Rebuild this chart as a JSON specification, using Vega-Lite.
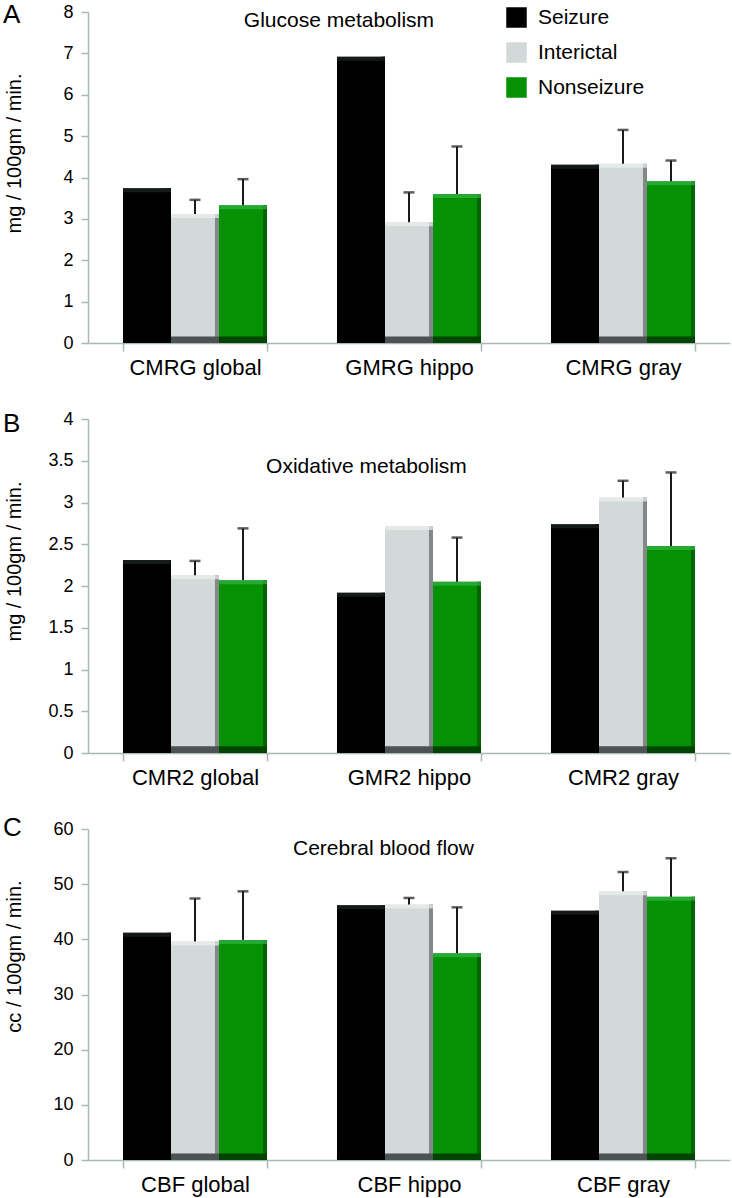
{
  "$schema": "https://vega.github.io/schema/vega-lite/v6.json",
  "background": "white",
  "padding": {"left": 2, "top": 2, "right": 2, "bottom": 2},
  "config": {
    "font": "Liberation Sans",
    "view": {"stroke": null},
    "axis": {"domainColor": "#a8b8b8", "domainWidth": 1.5, "tickColor": "#a8b8b8", "tickWidth": 1.5, "labelColor": "#000000", "titleColor": "#000000", "grid": false, "titleFontWeight": "normal"},
    "axisX": {"labelFontSize": 22, "tickSize": 8, "labelPadding": 6, "labelAngle": 0, "tickBand": "extent", "title": null},
    "axisY": {"labelFontSize": 18, "tickSize": 7, "labelPadding": 8, "titleFontSize": 20, "titleX": -74, "titleBaseline": "middle", "format": "~g"}
  },
  "datasets": {
    "glucose": [
      {"region": "CMRG global", "group": "Seizure", "value": 3.74, "upper": null},
      {"region": "CMRG global", "group": "Interictal", "value": 3.12, "upper": 3.46},
      {"region": "CMRG global", "group": "Nonseizure", "value": 3.33, "upper": 3.96},
      {"region": "GMRG hippo", "group": "Seizure", "value": 6.92, "upper": null},
      {"region": "GMRG hippo", "group": "Interictal", "value": 2.92, "upper": 3.64},
      {"region": "GMRG hippo", "group": "Nonseizure", "value": 3.6, "upper": 4.75},
      {"region": "CMRG gray", "group": "Seizure", "value": 4.31, "upper": null},
      {"region": "CMRG gray", "group": "Interictal", "value": 4.33, "upper": 5.15},
      {"region": "CMRG gray", "group": "Nonseizure", "value": 3.91, "upper": 4.41}
    ],
    "oxid": [
      {"region": "CMR2 global", "group": "Seizure", "value": 2.31, "upper": null},
      {"region": "CMR2 global", "group": "Interictal", "value": 2.13, "upper": 2.3},
      {"region": "CMR2 global", "group": "Nonseizure", "value": 2.07, "upper": 2.69},
      {"region": "GMR2 hippo", "group": "Seizure", "value": 1.92, "upper": null},
      {"region": "GMR2 hippo", "group": "Interictal", "value": 2.72, "upper": null},
      {"region": "GMR2 hippo", "group": "Nonseizure", "value": 2.05, "upper": 2.58},
      {"region": "CMR2 gray", "group": "Seizure", "value": 2.74, "upper": null},
      {"region": "CMR2 gray", "group": "Interictal", "value": 3.06, "upper": 3.26},
      {"region": "CMR2 gray", "group": "Nonseizure", "value": 2.48, "upper": 3.36}
    ],
    "cbf": [
      {"region": "CBF global", "group": "Seizure", "value": 41.2, "upper": null},
      {"region": "CBF global", "group": "Interictal", "value": 39.6, "upper": 47.4},
      {"region": "CBF global", "group": "Nonseizure", "value": 39.9, "upper": 48.7},
      {"region": "CBF hippo", "group": "Seizure", "value": 46.2, "upper": null},
      {"region": "CBF hippo", "group": "Interictal", "value": 46.3, "upper": 47.5},
      {"region": "CBF hippo", "group": "Nonseizure", "value": 37.5, "upper": 45.8},
      {"region": "CBF gray", "group": "Seizure", "value": 45.2, "upper": null},
      {"region": "CBF gray", "group": "Interictal", "value": 48.7, "upper": 52.2},
      {"region": "CBF gray", "group": "Nonseizure", "value": 47.7, "upper": 54.7}
    ]
  },
  "vconcat": [
    {
      "width": 642, "height": 331,
      "data": {"name": "glucose"},
      "resolve": {"scale": {"xOffset": "independent"}},
      "encoding": {
        "x": {"field": "region", "type": "nominal", "sort": null, "scale": {"paddingInner": 0.327, "paddingOuter": 0.1635}},
        "xOffset": {"field": "group", "type": "nominal", "scale": {"domain": ["Seizure", "Interictal", "Nonseizure"], "paddingInner": 0, "paddingOuter": 0}}
      },
      "layer": [
        {
          "mark": {"type": "bar"},
          "encoding": {
            "y": {"field": "value", "type": "quantitative", "title": "mg / 100gm / min.", "scale": {"domain": [0, 8]}, "axis": {"values": [0, 1, 2, 3, 4, 5, 6, 7, 8], "titleY": 141}},
            "color": {"field": "group", "type": "nominal", "scale": {"domain": ["Seizure", "Interictal", "Nonseizure"], "range": ["#000000", "#d3d9d8", "#049204"]},
              "legend": {"orient": "none", "legendX": 418, "legendY": -5, "title": null, "symbolType": "square", "symbolSize": 420, "symbolStrokeWidth": 0, "labelFontSize": 21, "labelColor": "#000000", "rowPadding": 13, "labelOffset": 11}}
          }
        },
        {
          "mark": {"type": "bar"},
          "encoding": {
            "xOffset": {"field": "group", "type": "nominal", "scale": {"domain": ["Seizure", "Interictal", "Nonseizure"], "paddingInner": 0.916, "paddingOuter": 0.458, "align": 1}},
            "y": {"field": "value", "type": "quantitative", "title": "mg / 100gm / min."},
            "fill": {"condition": [{"test": "datum.group == 'Interictal'", "value": "#838989"}, {"test": "datum.group == 'Nonseizure'", "value": "#006400"}], "value": "#000000"}
          }
        },
        {
          "mark": {"type": "tick", "orient": "horizontal", "size": 47.8, "thickness": 4, "yOffset": 2},
          "encoding": {
            "y": {"field": "value", "type": "quantitative", "title": "mg / 100gm / min."},
            "fill": {"condition": [{"test": "datum.group == 'Interictal'", "value": "#eceff0"}, {"test": "datum.group == 'Nonseizure'", "value": "#35b446"}], "value": "#202424"}
          }
        },
        {
          "mark": {"type": "bar"},
          "encoding": {
            "y": {"datum": 0, "type": "quantitative", "title": "mg / 100gm / min."},
            "y2": {"datum": 0.16},
            "fill": {"condition": [{"test": "datum.group == 'Interictal'", "value": "#4d5252"}, {"test": "datum.group == 'Nonseizure'", "value": "#004400"}], "value": "#000000"}
          }
        },
        {
          "transform": [{"filter": "datum.upper != null"}],
          "mark": {"type": "rule", "strokeWidth": 2, "color": "#1a1a1a"},
          "encoding": {
            "y": {"field": "value", "type": "quantitative", "title": "mg / 100gm / min."},
            "y2": {"field": "upper"}
          }
        },
        {
          "transform": [{"filter": "datum.upper != null"}],
          "mark": {"type": "tick", "thickness": 2.5, "size": 11, "color": "#1a1a1a", "orient": "horizontal"},
          "encoding": {
            "y": {"field": "upper", "type": "quantitative", "title": "mg / 100gm / min."}
          }
        },
        {
          "data": {"values": [{"label": "Glucose metabolism"}]},
          "mark": {"type": "text", "fontSize": 21, "dx": 2, "baseline": "alphabetic", "color": "#000000"},
          "encoding": {
            "x": {"datum": "GMRG hippo"},
            "xOffset": {"value": 0},
            "y": {"datum": 7.64, "type": "quantitative", "title": "mg / 100gm / min."},
            "text": {"field": "label"}
          }
        },
        {
          "data": {"values": [{"label": "A"}]},
          "mark": {"type": "text", "fontSize": 26, "dx": -120, "dy": 11, "align": "left", "baseline": "alphabetic", "color": "#000000"},
          "encoding": {
            "x": {"datum": "CMRG global"},
            "xOffset": {"value": 0},
            "y": {"datum": 8, "type": "quantitative", "title": "mg / 100gm / min."},
            "text": {"field": "label"}
          }
        }
      ]
    },
    {
      "width": 642, "height": 334,
      "data": {"name": "oxid"},
      "resolve": {"scale": {"xOffset": "independent"}},
      "encoding": {
        "x": {"field": "region", "type": "nominal", "sort": null, "scale": {"paddingInner": 0.327, "paddingOuter": 0.1635}},
        "xOffset": {"field": "group", "type": "nominal", "scale": {"domain": ["Seizure", "Interictal", "Nonseizure"], "paddingInner": 0, "paddingOuter": 0}}
      },
      "layer": [
        {
          "mark": {"type": "bar"},
          "encoding": {
            "y": {"field": "value", "type": "quantitative", "title": "mg / 100gm / min.", "scale": {"domain": [0, 4]}, "axis": {"values": [0, 0.5, 1, 1.5, 2, 2.5, 3, 3.5, 4], "titleY": 142}},
            "color": {"field": "group", "type": "nominal", "scale": {"domain": ["Seizure", "Interictal", "Nonseizure"], "range": ["#000000", "#d3d9d8", "#049204"]}, "legend": null}
          }
        },
        {
          "mark": {"type": "bar"},
          "encoding": {
            "xOffset": {"field": "group", "type": "nominal", "scale": {"domain": ["Seizure", "Interictal", "Nonseizure"], "paddingInner": 0.916, "paddingOuter": 0.458, "align": 1}},
            "y": {"field": "value", "type": "quantitative", "title": "mg / 100gm / min."},
            "fill": {"condition": [{"test": "datum.group == 'Interictal'", "value": "#838989"}, {"test": "datum.group == 'Nonseizure'", "value": "#006400"}], "value": "#000000"}
          }
        },
        {
          "mark": {"type": "tick", "orient": "horizontal", "size": 47.8, "thickness": 4, "yOffset": 2},
          "encoding": {
            "y": {"field": "value", "type": "quantitative", "title": "mg / 100gm / min."},
            "fill": {"condition": [{"test": "datum.group == 'Interictal'", "value": "#eceff0"}, {"test": "datum.group == 'Nonseizure'", "value": "#35b446"}], "value": "#202424"}
          }
        },
        {
          "mark": {"type": "bar"},
          "encoding": {
            "y": {"datum": 0, "type": "quantitative", "title": "mg / 100gm / min."},
            "y2": {"datum": 0.08},
            "fill": {"condition": [{"test": "datum.group == 'Interictal'", "value": "#4d5252"}, {"test": "datum.group == 'Nonseizure'", "value": "#004400"}], "value": "#000000"}
          }
        },
        {
          "transform": [{"filter": "datum.upper != null"}],
          "mark": {"type": "rule", "strokeWidth": 2, "color": "#1a1a1a"},
          "encoding": {
            "y": {"field": "value", "type": "quantitative", "title": "mg / 100gm / min."},
            "y2": {"field": "upper"}
          }
        },
        {
          "transform": [{"filter": "datum.upper != null"}],
          "mark": {"type": "tick", "thickness": 2.5, "size": 11, "color": "#1a1a1a", "orient": "horizontal"},
          "encoding": {
            "y": {"field": "upper", "type": "quantitative", "title": "mg / 100gm / min."}
          }
        },
        {
          "data": {"values": [{"label": "Oxidative metabolism"}]},
          "mark": {"type": "text", "fontSize": 21, "dx": 29.5, "baseline": "alphabetic", "color": "#000000"},
          "encoding": {
            "x": {"datum": "GMR2 hippo"},
            "xOffset": {"value": 0},
            "y": {"datum": 3.35, "type": "quantitative", "title": "mg / 100gm / min."},
            "text": {"field": "label"}
          }
        },
        {
          "data": {"values": [{"label": "B"}]},
          "mark": {"type": "text", "fontSize": 26, "dx": -120, "dy": 13, "align": "left", "baseline": "alphabetic", "color": "#000000"},
          "encoding": {
            "x": {"datum": "CMR2 global"},
            "xOffset": {"value": 0},
            "y": {"datum": 4, "type": "quantitative", "title": "mg / 100gm / min."},
            "text": {"field": "label"}
          }
        }
      ]
    },
    {
      "width": 642, "height": 331,
      "data": {"name": "cbf"},
      "resolve": {"scale": {"xOffset": "independent"}},
      "encoding": {
        "x": {"field": "region", "type": "nominal", "sort": null, "scale": {"paddingInner": 0.327, "paddingOuter": 0.1635}},
        "xOffset": {"field": "group", "type": "nominal", "scale": {"domain": ["Seizure", "Interictal", "Nonseizure"], "paddingInner": 0, "paddingOuter": 0}}
      },
      "layer": [
        {
          "mark": {"type": "bar"},
          "encoding": {
            "y": {"field": "value", "type": "quantitative", "title": "cc / 100gm / min.", "scale": {"domain": [0, 60]}, "axis": {"values": [0, 10, 20, 30, 40, 50, 60], "titleY": 127}},
            "color": {"field": "group", "type": "nominal", "scale": {"domain": ["Seizure", "Interictal", "Nonseizure"], "range": ["#000000", "#d3d9d8", "#049204"]}, "legend": null}
          }
        },
        {
          "mark": {"type": "bar"},
          "encoding": {
            "xOffset": {"field": "group", "type": "nominal", "scale": {"domain": ["Seizure", "Interictal", "Nonseizure"], "paddingInner": 0.916, "paddingOuter": 0.458, "align": 1}},
            "y": {"field": "value", "type": "quantitative", "title": "cc / 100gm / min."},
            "fill": {"condition": [{"test": "datum.group == 'Interictal'", "value": "#838989"}, {"test": "datum.group == 'Nonseizure'", "value": "#006400"}], "value": "#000000"}
          }
        },
        {
          "mark": {"type": "tick", "orient": "horizontal", "size": 47.8, "thickness": 4, "yOffset": 2},
          "encoding": {
            "y": {"field": "value", "type": "quantitative", "title": "cc / 100gm / min."},
            "fill": {"condition": [{"test": "datum.group == 'Interictal'", "value": "#eceff0"}, {"test": "datum.group == 'Nonseizure'", "value": "#35b446"}], "value": "#202424"}
          }
        },
        {
          "mark": {"type": "bar"},
          "encoding": {
            "y": {"datum": 0, "type": "quantitative", "title": "cc / 100gm / min."},
            "y2": {"datum": 1.2},
            "fill": {"condition": [{"test": "datum.group == 'Interictal'", "value": "#4d5252"}, {"test": "datum.group == 'Nonseizure'", "value": "#004400"}], "value": "#000000"}
          }
        },
        {
          "transform": [{"filter": "datum.upper != null"}],
          "mark": {"type": "rule", "strokeWidth": 2, "color": "#1a1a1a"},
          "encoding": {
            "y": {"field": "value", "type": "quantitative", "title": "cc / 100gm / min."},
            "y2": {"field": "upper"}
          }
        },
        {
          "transform": [{"filter": "datum.upper != null"}],
          "mark": {"type": "tick", "thickness": 2.5, "size": 11, "color": "#1a1a1a", "orient": "horizontal"},
          "encoding": {
            "y": {"field": "upper", "type": "quantitative", "title": "cc / 100gm / min."}
          }
        },
        {
          "data": {"values": [{"label": "Cerebral blood flow"}]},
          "mark": {"type": "text", "fontSize": 21, "dx": 46.5, "baseline": "alphabetic", "color": "#000000"},
          "encoding": {
            "x": {"datum": "CBF hippo"},
            "xOffset": {"value": 0},
            "y": {"datum": 55.3, "type": "quantitative", "title": "cc / 100gm / min."},
            "text": {"field": "label"}
          }
        },
        {
          "data": {"values": [{"label": "C"}]},
          "mark": {"type": "text", "fontSize": 26, "dx": -120, "dy": 7, "align": "left", "baseline": "alphabetic", "color": "#000000"},
          "encoding": {
            "x": {"datum": "CBF global"},
            "xOffset": {"value": 0},
            "y": {"datum": 60, "type": "quantitative", "title": "cc / 100gm / min."},
            "text": {"field": "label"}
          }
        }
      ]
    }
  ],
  "spacing": 76,
  "bounds": "flush",
  "resolve": {"scale": {"color": "independent"}, "legend": {"color": "independent"}}
}
